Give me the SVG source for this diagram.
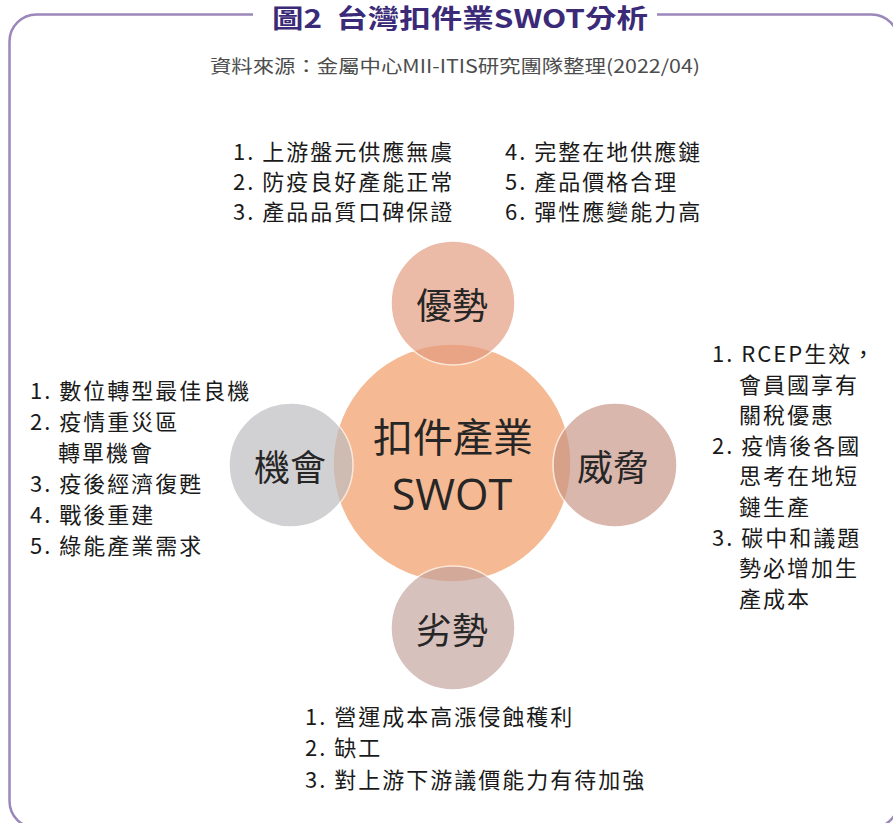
<svg xmlns="http://www.w3.org/2000/svg" width="893" height="823" viewBox="0 0 893 823">
<style>
.frame{fill:none;stroke:#9c87ba;stroke-width:2.5}
.title{font-family:"Noto Sans CJK TC","Noto Sans",sans-serif;font-weight:bold;font-size:26px;fill:#3b2a78}
.src{font-family:"Noto Sans CJK TC","Noto Sans",sans-serif;font-size:18px;fill:#4d4d4d}
.lst{font-family:"Noto Sans CJK TC","Noto Sans",sans-serif;font-size:22px;fill:#1a1a1a;letter-spacing:2px}
.ctr{font-family:"Noto Sans CJK TC","Noto Sans",sans-serif;fill:#262626;text-anchor:middle}
.sat{opacity:0.67;stroke:#ffffff;stroke-width:1.5}
</style>
<rect width="893" height="823" fill="#ffffff"/>
<path class="frame" d="M657,14.5 H871.5 A27,27 0 0 1 898.5,41.5 V801 A27,27 0 0 1 871.5,828 H36.5 A27,27 0 0 1 9.5,801 V41.5 A27,27 0 0 1 36.5,14.5 H253"/>
<text class="title" x="272" y="28" xml:space="preserve" textLength="376" lengthAdjust="spacingAndGlyphs">圖2  台灣扣件業SWOT分析</text>
<text class="src" x="210" y="73" textLength="490" lengthAdjust="spacingAndGlyphs">資料來源：金屬中心MII-ITIS研究團隊整理(2022/04)</text>

<g id="core">
<circle cx="452" cy="463" r="119" fill="#f5b993" stroke="#ffffff" stroke-width="1.5"/>
<text class="ctr" x="453" y="452" font-size="40">扣件產業</text>
<text class="ctr" x="452" y="510" font-size="43" style="font-family:'Open Sans','Noto Sans',sans-serif">SWOT</text>
</g>
<g id="strength">
<circle class="sat" cx="453" cy="303" r="62" fill="#e39a7d"/>
<text class="ctr" x="452" y="319" font-size="36">優勢</text>
</g>
<g id="opportunity">
<circle class="sat" cx="291" cy="465" r="62" fill="#bcbcc0"/>
<text class="ctr" x="290" y="481" font-size="36">機會</text>
</g>
<g id="threat">
<circle class="sat" cx="615" cy="465" r="62" fill="#c99484"/>
<text class="ctr" x="613" y="481" font-size="36">威脅</text>
</g>
<g id="weakness">
<circle class="sat" cx="453" cy="628" r="62" fill="#c3a39e"/>
<text class="ctr" x="452" y="644" font-size="36">劣勢</text>
</g>

<g id="connectors"></g>

<g id="strength-list">
<text class="lst" x="233" y="160">1. 上游盤元供應無虞</text>
<text class="lst" x="233" y="190">2. 防疫良好產能正常</text>
<text class="lst" x="233" y="220">3. 產品品質口碑保證</text>
<text class="lst" x="505" y="160">4. 完整在地供應鏈</text>
<text class="lst" x="505" y="190">5. 產品價格合理</text>
<text class="lst" x="505" y="220">6. 彈性應變能力高</text>
</g>
<g id="opportunity-list">
<text class="lst" x="30" y="399">1. 數位轉型最佳良機</text>
<text class="lst" x="30" y="430">2. 疫情重災區</text>
<text class="lst" x="58" y="461">轉單機會</text>
<text class="lst" x="30" y="492">3. 疫後經濟復甦</text>
<text class="lst" x="30" y="523">4. 戰後重建</text>
<text class="lst" x="30" y="554">5. 綠能產業需求</text>
</g>
<g id="threat-list">
<text class="lst" x="712" y="362">1. RCEP生效，</text>
<text class="lst" x="739" y="392.6">會員國享有</text>
<text class="lst" x="739" y="423.2">關稅優惠</text>
<text class="lst" x="712" y="453.8">2. 疫情後各國</text>
<text class="lst" x="739" y="484.4">思考在地短</text>
<text class="lst" x="739" y="515">鏈生產</text>
<text class="lst" x="712" y="545.6">3. 碳中和議題</text>
<text class="lst" x="739" y="576.2">勢必增加生</text>
<text class="lst" x="739" y="606.8">產成本</text>
</g>
<g id="weakness-list">
<text class="lst" x="305" y="725">1. 營運成本高漲侵蝕穫利</text>
<text class="lst" x="305" y="756">2. 缺工</text>
<text class="lst" x="305" y="788">3. 對上游下游議價能力有待加強</text>
</g>
</svg>
